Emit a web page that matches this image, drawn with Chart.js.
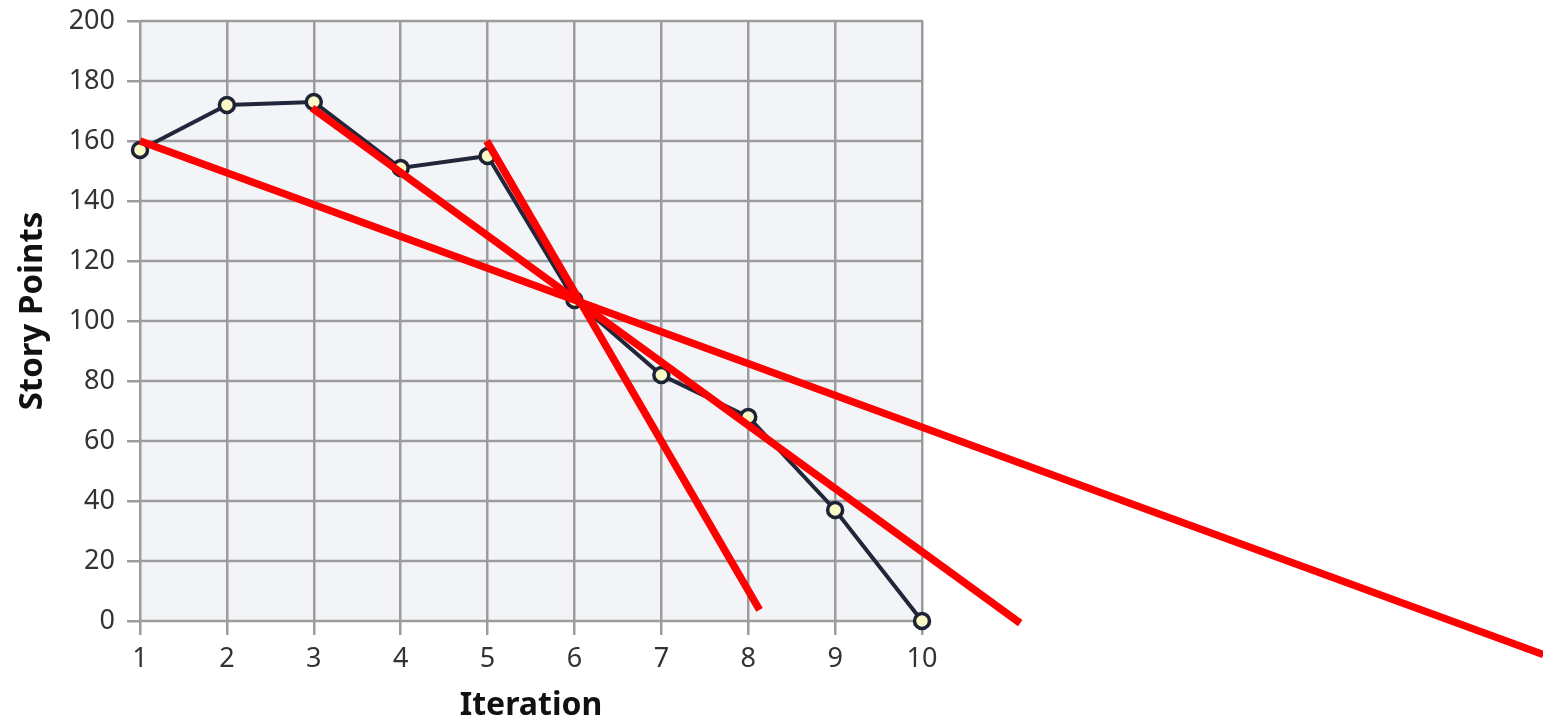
<!DOCTYPE html>
<html>
<head>
<meta charset="utf-8">
<script src="https://cdn.jsdelivr.net/npm/chart.js@4"></script>
<style>
  html, body { margin: 0; padding: 0; background: #fff; }
  #wrap { width: 1543px; height: 722px; position: relative; }
</style>
</head>
<body>
<div id="wrap"><canvas id="burndown"></canvas></div>
<script>
// data
const iterations = [1, 2, 3, 4, 5, 6, 7, 8, 9, 10];
const storyPoints = [157, 172, 173, 151, 155, 107, 82, 68, 37, 0];
const yTicks = [0, 20, 40, 60, 80, 100, 120, 140, 160, 180, 200];

// red trend lines drawn over the chart (start / end)
const trendAllX = [1, 17.15];
const trendAllY = [160, -11.2];
const trendMidX = [2.98, 11.13];
const trendMidY = [171, -0.7];
const trendLateX = [4.99, 8.13];
const trendLateY = [160, 3.7];

const FONT = '"Noto Sans", "Open Sans", sans-serif';
const GRID = '#9c9c9c';

const toPoints = (xs, ys) => xs.map((x, i) => ({ x, y: ys[i] }));

// plot background + horizontal grid only between iteration 1 and 10,
// axis titles placed against that part
const plotFrame = {
  id: 'plotFrame',
  beforeDraw(chart) {
    const { ctx, scales: { x, y } } = chart;
    const left = x.getPixelForValue(iterations[0]);
    const right = x.getPixelForValue(iterations[iterations.length - 1]);
    const top = y.getPixelForValue(yTicks[yTicks.length - 1]);
    const bottom = y.getPixelForValue(yTicks[0]);
    ctx.save();
    ctx.fillStyle = '#f3f4f7';
    ctx.fillRect(left, top, right - left, bottom - top);
    ctx.strokeStyle = GRID;
    ctx.lineWidth = 2.5;
    yTicks.forEach(v => {
      const py = y.getPixelForValue(v);
      ctx.beginPath();
      ctx.moveTo(left, py);
      ctx.lineTo(right + 1, py);
      ctx.stroke();
    });
    ctx.restore();
  },
  afterDraw(chart) {
    const { ctx, scales: { x } } = chart;
    const left = x.getPixelForValue(iterations[0]);
    const right = x.getPixelForValue(iterations[iterations.length - 1]);
    ctx.save();
    ctx.fillStyle = '#111';
    ctx.textAlign = 'center';
    ctx.textBaseline = 'middle';
    ctx.font = 'bold 32px ' + FONT;
    ctx.fillText('Iteration', (left + right) / 2, 706);
    ctx.translate(33, 311);
    ctx.rotate(-Math.PI / 2);
    ctx.font = 'bold 33px ' + FONT;
    ctx.fillText('Story Points', 0, 0);
    ctx.restore();
  }
};

const redLine = (xs, ys) => ({
  data: toPoints(xs, ys),
  borderColor: '#ff0000',
  borderWidth: 7.5,
  borderCapStyle: 'butt',
  pointRadius: 0,
  clip: false,
  order: 0
});

new Chart(document.getElementById('burndown'), {
  type: 'line',
  data: {
    datasets: [
      {
        data: toPoints(iterations, storyPoints),
        borderColor: '#22263b',
        borderWidth: 4,
        pointRadius: 7.5,
        pointBorderWidth: 3.5,
        pointBackgroundColor: '#fafac6',
        pointBorderColor: '#1e2236',
        tension: 0,
        clip: false,
        order: 1
      },
      redLine(trendAllX, trendAllY),
      redLine(trendMidX, trendMidY),
      redLine(trendLateX, trendLateY)
    ]
  },
  options: {
    responsive: true,
    maintainAspectRatio: false,
    animation: false,
    layout: { padding: { top: 21, right: 0, left: 0, bottom: 0 } },
    plugins: { legend: { display: false }, tooltip: { enabled: false } },
    scales: {
      x: {
        type: 'linear',
        min: 1,
        max: 17.02,
        afterBuildTicks: axis => { axis.ticks = iterations.map(v => ({ value: v })); },
        afterFit: axis => { axis.height = 101; },
        border: { display: false },
        grid: { color: GRID, lineWidth: 2.5, tickLength: 14 },
        ticks: {
          color: '#333',
          padding: 8,
          maxRotation: 0,
          font: { family: FONT, size: 27 }
        }
      },
      y: {
        min: 0,
        max: 200,
        afterBuildTicks: axis => { axis.ticks = yTicks.map(v => ({ value: v })); },
        afterFit: axis => {
          axis.width = 140;
          axis.paddingTop = 0;
          axis.paddingBottom = 0;
        },
        border: { display: false },
        grid: { color: GRID, lineWidth: 2.5, tickLength: 13, drawOnChartArea: false },
        ticks: {
          color: '#333',
          padding: 12,
          font: { family: FONT, size: 27 }
        }
      }
    }
  },
  plugins: [plotFrame]
});
</script>
</body>
</html>
